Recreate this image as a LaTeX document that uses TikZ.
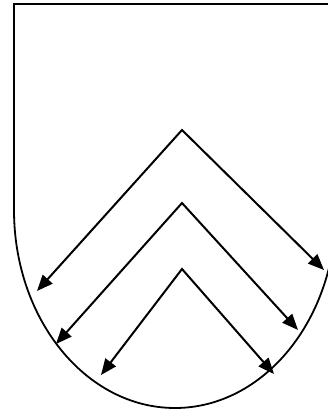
\documentclass[tikz,border=0pt]{standalone}
\usepackage{tikz}
\usetikzlibrary{arrows.meta}

\begin{document}
\begin{tikzpicture}[x=1pt, y=1pt,
  shield/.style={draw, line width=1.8pt},
  arrow/.style={{Triangle[length=16pt,width=13pt]}-{Triangle[length=16pt,width=13pt]},
                line width=2pt, miter limit=10}]
\useasboundingbox (0,0) rectangle (328,-412);
\def\chev#1#2#3#4{%
  \coordinate (l#1) at (#2);
  \coordinate (a#1) at (#3);
  \coordinate (r#1) at (#4);
  \draw[arrow] (l#1) -- (a#1) -- (r#1);}
% shield outline
\coordinate (tl) at (14,-4);
\coordinate (tr) at (336,-4);
\path[shield] (336,-210) -- (tr) -- (tl) -- (14,-210)
  arc[start angle=180, end angle=360, x radius=161, y radius=198];
% chevrons
\chev{1}{37,-291}{182,-130}{324,-270}
\chev{2}{56,-344}{182,-203}{298,-330}
\chev{3}{101,-375}{182,-269}{274,-374}
\end{tikzpicture}
\end{document}
